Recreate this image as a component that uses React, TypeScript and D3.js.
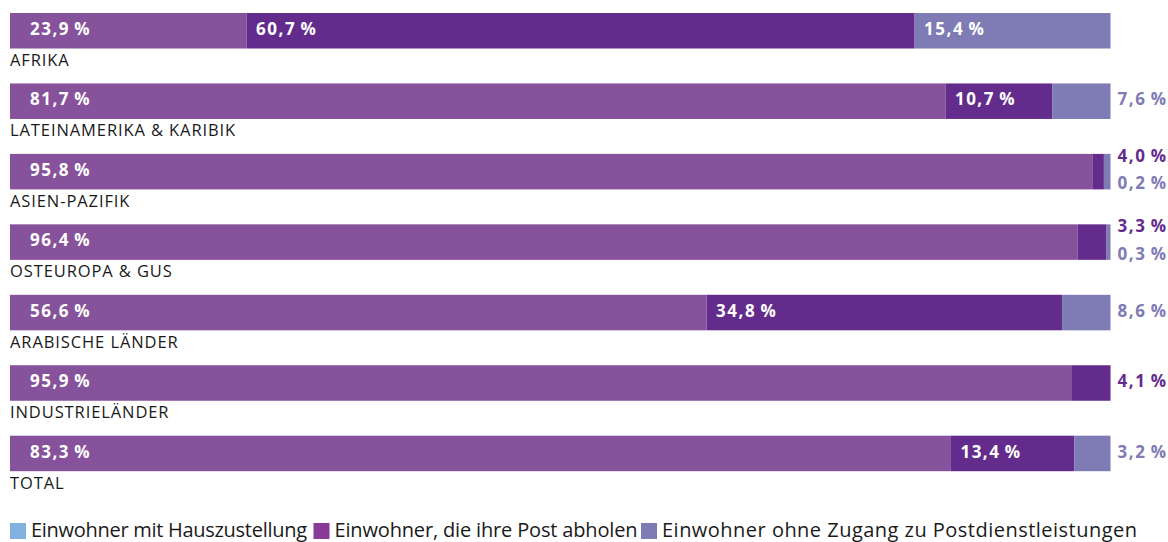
import React from "react";
import * as d3 from "d3";

const categories = [
  "AFRIKA",
  "LATEINAMERIKA & KARIBIK",
  "ASIEN-PAZIFIK",
  "OSTEUROPA & GUS",
  "ARABISCHE LÄNDER",
  "INDUSTRIELÄNDER",
  "TOTAL",
];

// Printed percentages (labels)
const homeDelivery = [23.9, 81.7, 95.8, 96.4, 56.6, 95.9, 83.3];
const pickUp = [60.7, 10.7, 4.0, 3.3, 34.8, 4.1, 13.4];
const noAccess = [15.4, 7.6, 0.2, 0.3, 8.6, 0.0, 3.2];

// Bar lengths as drawn in the reference (percent of the full bar)
const homeDeliveryDrawn = [21.5, 85.0, 98.4, 97.0, 63.3, 96.5, 85.5];
const pickUpDrawn = [60.7, 9.7, 1.0, 2.6, 32.3, 3.5, 11.2];
const noAccessDrawn = [17.8, 5.3, 0.6, 0.4, 4.4, 0.0, 3.3];

const legendLabels = [
  "Einwohner mit Hauszustellung",
  "Einwohner, die ihre Post abholen",
  "Einwohner ohne Zugang zu Postdienstleistungen",
];

const segColors = ["#86529b", "#632c8c", "#7e7bb5"];
const legendColors = ["#7fb2e0", "#873a98", "#7e7bb5"];
const outsideColors = ["#86529b", "#632c8c", "#7e7bb5"];

const W = 1168;
const H = 542;

const fmt = (v: number) => d3.format(".1f")(v).replace(".", ",") + "\u2009%";

export default function App() {
  const x = d3.scaleLinear().domain([0, 100]).range([10, 1110.5]);
  const y = d3
    .scaleBand<string>()
    .domain(categories)
    .range([13, 471.2])
    .paddingInner(0.496)
    .paddingOuter(0);
  const bw = y.bandwidth();

  const rows = categories.map((c, i) => ({
    c,
    labels: [homeDelivery[i], pickUp[i], noAccess[i]],
    drawn: [homeDeliveryDrawn[i], pickUpDrawn[i], noAccessDrawn[i]],
  }));

  const valueFont = "'Open Sans', 'DejaVu Sans', sans-serif";

  const legendX = [10, 313.5, 641];
  const legendTextLen = [276, 303, 475];

  return (
    <svg
      width={W}
      height={H}
      style={{ position: "absolute", left: 0, top: 0, background: "#fff" }}
      fontFamily={valueFont}
    >
      {rows.map((r) => {
        const top = y(r.c)!;
        let acc = 0;
        const segs = r.drawn.map((d, k) => {
          const s = { k, x0: acc, x1: acc + d, label: r.labels[k] };
          acc += d;
          return s;
        });
        const inside = segs.filter((s) => s.x1 - s.x0 >= 9);
        const outside = segs.filter((s) => s.x1 - s.x0 < 9 && s.label > 0);
        return (
          <g key={r.c}>
            {segs.map((s) =>
              s.x1 - s.x0 > 0 ? (
                <rect
                  key={s.k}
                  x={x(s.x0)}
                  y={top}
                  width={x(s.x1) - x(s.x0)}
                  height={bw}
                  fill={segColors[s.k]}
                />
              ) : null
            )}
            {inside.map((s) => (
              <text
                key={"i" + s.k}
                x={x(s.x0) + (s.k === 0 ? 20 : 9.5)}
                y={top + 22}
                fill="#fff"
                fontWeight={700}
                fontSize={17}
                letterSpacing={1.5}
              >
                {fmt(s.label)}
              </text>
            ))}
            {outside.map((s, j) => (
              <text
                key={"o" + s.k}
                x={1167.5}
                y={outside.length === 1 ? top + 22 : j === 0 ? top + 8 : top + 35.5}
                textAnchor="end"
                fill={outsideColors[s.k]}
                fontWeight={700}
                fontSize={17}
                letterSpacing={1.5}
              >
                {fmt(s.label)}
              </text>
            ))}
            <text
              x={10}
              y={top + bw + 17.5}
              fill="#1a1a1a"
              fontSize={16.5}
              letterSpacing={0.9}
              fontWeight={400}
            >
              {r.c}
            </text>
          </g>
        );
      })}
      <g>
        {legendLabels.map((l, k) => (
          <g key={l}>
            <rect x={legendX[k]} y={523} width={16} height={16} fill={legendColors[k]} />
            <text
              x={legendX[k] + 21}
              y={537}
              fontSize={20}
              fill="#1a1a1a"
              fontWeight={400}
              textLength={legendTextLen[k]}
              lengthAdjust="spacing"
            >
              {l}
            </text>
          </g>
        ))}
      </g>
    </svg>
  );
}
